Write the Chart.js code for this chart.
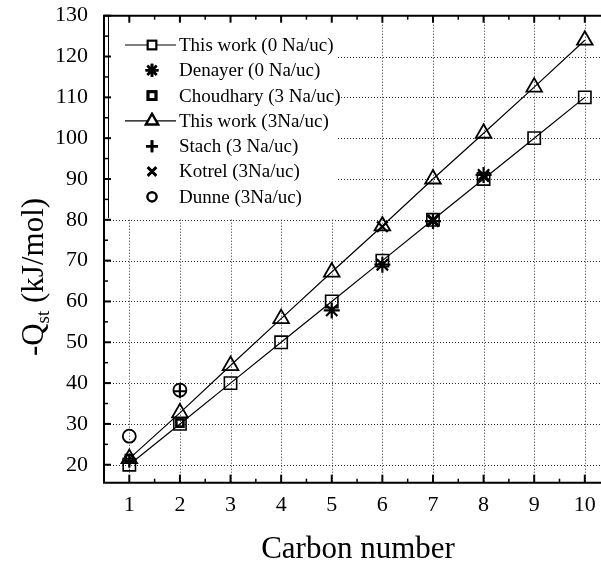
<!DOCTYPE html>
<html>
<head>
<meta charset="utf-8">
<script src="https://cdn.jsdelivr.net/npm/chart.js@4.4.1/dist/chart.umd.min.js"></script>
<style>
html,body{margin:0;padding:0;background:#fff;overflow:hidden;}
#wrap{width:601px;height:568px;}
</style>
</head>
<body>
<div id="wrap"><canvas id="c" width="601" height="568"></canvas></div>
<script>
// ---- data ----
const xTicks = [1, 2, 3, 4, 5, 6, 7, 8, 9, 10];
const yTicks = [20, 30, 40, 50, 60, 70, 80, 90, 100, 110, 120, 130];
const xMinor = [1.5, 2.5, 3.5, 4.5, 5.5, 6.5, 7.5, 8.5, 9.5];
const yMinor = [25, 35, 45, 55, 65, 75, 85, 95, 105, 115, 125];

const carbon = [1, 2, 3, 4, 5, 6, 7, 8, 9, 10];
const thisWork0 = [20, 30, 40, 50, 60, 70, 80, 90, 100, 110];
const thisWork3 = [21.5, 32.7, 44.3, 55.8, 67.2, 78.5, 90, 101.2, 112.5, 124];

const denayerX = [5, 6, 7, 8];
const denayerY = [57.8, 69, 79.7, 91];
const choudharyX = [1, 2];
const choudharyY = [21.5, 30.2];
const stachX = [1, 2];
const stachY = [21, 38];
const kotrelX = [6, 7, 8];
const kotrelY = [78.3, 80, 90.6];
const dunneX = [1, 2];
const dunneY = [27, 38.3];

const labels = [
  'This work (0 Na/uc)',
  'Denayer (0 Na/uc)',
  'Choudhary (3 Na/uc)',
  'This work (3Na/uc)',
  'Stach (3 Na/uc)',
  'Kotrel (3Na/uc)',
  'Dunne (3Na/uc)'
];

const pts = (xs, ys) => xs.map((x, i) => ({x: x, y: ys[i]}));

const FONT = "'Liberation Serif', 'Times New Roman', serif";

function ds(label, data, style, radius, bw, line, legendRadius) {
  return {
    label: label,
    data: data,
    showLine: !!line,
    borderColor: '#000',
    borderWidth: 1.2,
    pointStyle: style,
    pointRadius: radius,
    pointHoverRadius: radius,
    pointBorderWidth: bw,
    pointBorderColor: '#000',
    pointBackgroundColor: 'rgba(0,0,0,0)',
    backgroundColor: 'rgba(0,0,0,0)',
    legendRadius: legendRadius
  };
}

const datasets = [
  ds(labels[0], pts(carbon, thisWork0), 'rect', 8.7, 1.6, true, 6),
  ds(labels[1], pts(denayerX, denayerY), 'star', 8, 2.2, false, 6.5),
  ds(labels[2], pts(choudharyX, choudharyY), 'rect', 5, 2.6, false, 5.5),
  ds(labels[3], pts(carbon, thisWork3), 'triangle', 9, 1.8, true, 7),
  ds(labels[4], pts(stachX, stachY), 'cross', 7, 2.2, false, 6),
  ds(labels[5], pts(kotrelX, kotrelY), 'crossRot', 7.5, 2.2, false, 6),
  ds(labels[6], pts(dunneX, dunneY), 'circle', 6.5, 1.8, false, 4.5)
];

const framePlugin = {
  id: 'frame',
  beforeDatasetsDraw(chart) {
    const {ctx, chartArea: a, scales: {x, y}} = chart;
    ctx.save();
    ctx.strokeStyle = '#333';
    ctx.lineWidth = 1;
    ctx.setLineDash([1, 2]);
    xTicks.forEach(v => {
      const px = Math.round(x.getPixelForValue(v)) + 0.5;
      ctx.beginPath(); ctx.moveTo(px, a.top); ctx.lineTo(px, a.bottom); ctx.stroke();
    });
    yTicks.forEach(v => {
      if (v >= 130) return;
      const py = Math.round(y.getPixelForValue(v)) + 0.5;
      ctx.beginPath(); ctx.moveTo(a.left, py); ctx.lineTo(a.right, py); ctx.stroke();
    });
    ctx.restore();
  },
  afterDatasetsDraw(chart) {
    const {ctx, chartArea: a, scales: {x, y}} = chart;
    ctx.save();
    // legend box
    const lx0 = 106, ly0 = a.top + 1, lx1 = 336, ly1 = 218;
    ctx.fillStyle = '#fff';
    ctx.fillRect(lx0, ly0, lx1 - lx0, ly1 - ly0);
    ctx.strokeStyle = '#000';
    ctx.lineWidth = 1;
    ctx.beginPath(); ctx.moveTo(108.5, a.top); ctx.lineTo(108.5, ly1); ctx.stroke();

    const rowY0 = 45, rowStep = 25.3;
    ctx.font = '19px ' + FONT;
    ctx.textBaseline = 'middle';
    ctx.textAlign = 'left';
    chart.data.datasets.forEach((d, i) => {
      const cy = rowY0 + i * rowStep;
      const cx = 152;
      if (d.showLine) {
        ctx.strokeStyle = '#000';
        ctx.lineWidth = 1.2;
        ctx.beginPath(); ctx.moveTo(125, cy); ctx.lineTo(176, cy); ctx.stroke();
      }
      ctx.strokeStyle = '#000';
      ctx.fillStyle = '#fff';
      ctx.lineWidth = d.pointBorderWidth + 0.4;
      Chart.helpers.drawPoint(ctx, {pointStyle: d.pointStyle, radius: d.legendRadius, borderWidth: d.pointBorderWidth, rotation: 0}, cx, cy);
      ctx.fill();
      ctx.stroke();
      ctx.fillStyle = '#000';
      ctx.fillText(d.label, 179, cy + 1);
    });

    // axes frame
    ctx.strokeStyle = '#000';
    ctx.lineWidth = 2;
    ctx.beginPath();
    ctx.moveTo(a.left, a.top); ctx.lineTo(a.right + 2, a.top);
    ctx.moveTo(a.left, a.top - 1); ctx.lineTo(a.left, a.bottom + 1);
    ctx.moveTo(a.left - 1, a.bottom); ctx.lineTo(a.right + 2, a.bottom);
    ctx.stroke();
    // inward ticks
    const tick = (px, py, dx, dy) => { ctx.beginPath(); ctx.moveTo(px, py); ctx.lineTo(px + dx, py + dy); ctx.stroke(); };
    xTicks.forEach(v => { const px = x.getPixelForValue(v); tick(px, a.bottom, 0, -8); tick(px, a.top, 0, 7); });
    yTicks.forEach(v => { const py = y.getPixelForValue(v); tick(a.left, py, 7, 0); });
    ctx.lineWidth = 1.5;
    xMinor.forEach(v => { const px = x.getPixelForValue(v); tick(px, a.bottom, 0, -4); tick(px, a.top, 0, 4); });
    yMinor.forEach(v => { const py = y.getPixelForValue(v); tick(a.left, py, 4, 0); });

    // axis titles
    ctx.fillStyle = '#000';
    ctx.textBaseline = 'alphabetic';
    ctx.textAlign = 'center';
    ctx.font = '31px ' + FONT;
    ctx.fillText('Carbon number', 358, 558);

    ctx.translate(43, 277);
    ctx.rotate(-Math.PI / 2);
    ctx.textAlign = 'left';
    const big = '31px ' + FONT, small = '19px ' + FONT;
    ctx.font = big; const w1 = ctx.measureText('-Q').width;
    ctx.font = small; const w2 = ctx.measureText('st').width;
    ctx.font = big; const w3 = ctx.measureText(' (kJ/mol)').width;
    let sx = -(w1 + w2 + w3) / 2;
    ctx.font = big; ctx.fillText('-Q', sx, 0); sx += w1;
    ctx.font = small; ctx.fillText('st', sx, 6); sx += w2;
    ctx.font = big; ctx.fillText(' (kJ/mol)', sx, 0);
    ctx.restore();
  }
};

new Chart(document.getElementById('c'), {
  type: 'scatter',
  data: {datasets: datasets},
  options: {
    responsive: false,
    animation: false,
    devicePixelRatio: 1,
    layout: {autoPadding: false, padding: {top: 15.7, left: 0, right: 0, bottom: 0}},
    plugins: {legend: {display: false}, tooltip: {enabled: false}},
    scales: {
      x: {
        type: 'linear',
        min: 0.5,
        max: 10.32,
        afterBuildTicks: s => { s.ticks = xTicks.map(v => ({value: v})); },
        afterFit: s => { s.height = 568 - 482.7 - 0; s.paddingLeft = 0; s.paddingRight = 0; s.paddingTop = 0; s.paddingBottom = 0; },
        grid: {display: false, drawTicks: false},
        border: {display: false},
        ticks: {color: '#000', font: {family: FONT, size: 22}, padding: 9, maxRotation: 0, autoSkip: false}
      },
      y: {
        type: 'linear',
        min: 15.6,
        max: 130,
        afterBuildTicks: s => { s.ticks = yTicks.map(v => ({value: v})); },
        afterFit: s => { s.width = 104; s.paddingLeft = 0; s.paddingRight = 0; s.paddingTop = 0; s.paddingBottom = 0; },
        grid: {display: false, drawTicks: false},
        border: {display: false},
        ticks: {color: '#000', font: {family: FONT, size: 22}, padding: 16, autoSkip: false}
      }
    }
  },
  plugins: [framePlugin]
});
</script>
</body>
</html>
